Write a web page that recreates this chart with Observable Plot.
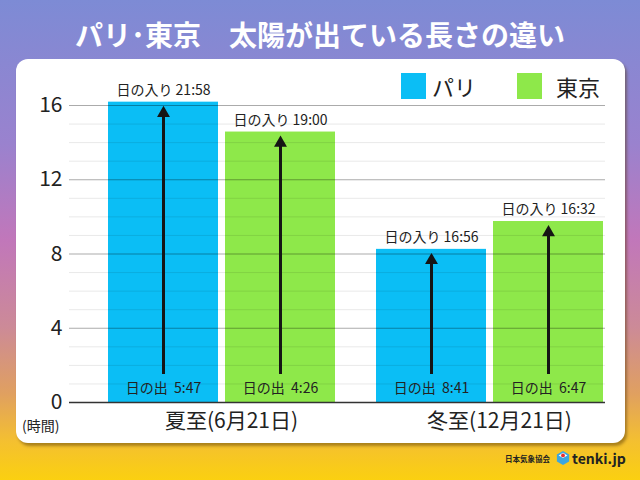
<!DOCTYPE html>
<html><head><meta charset="utf-8">
<script src="https://cdn.jsdelivr.net/npm/d3@7"></script>
<script src="https://cdn.jsdelivr.net/npm/@observablehq/plot@0.6"></script>
<style>
html,body{margin:0;padding:0;}
body{width:640px;height:480px;overflow:hidden;font-family:"Noto Sans CJK JP","Noto Sans",sans-serif;}
#bg{position:relative;width:640px;height:480px;background:linear-gradient(180deg,#7D8BD5 0%,#9A82CE 30%,#C177BA 50%,#CC8A98 68%,#E0A060 82%,#F4C030 92%,#FBD010 100%);}
#title{position:absolute;left:0;width:640px;top:12px;text-align:center;color:#fff;font-weight:700;font-size:28px;line-height:44px;white-space:nowrap;}
#panel{position:absolute;left:16px;top:59px;width:609px;height:384px;background:#fff;border-radius:12px;box-shadow:2px 3px 3px rgba(80,50,0,0.45);}
#chart{position:absolute;left:0;top:0;}
.sw{position:absolute;width:25px;height:26px;}
.lt{position:absolute;font-size:22px;line-height:26px;color:#222;}
#unit{position:absolute;left:22px;top:416px;font-size:14px;line-height:18px;color:#222;}
#footer{position:absolute;left:505px;top:448px;height:20px;display:flex;align-items:center;color:#222;white-space:nowrap;}
</style></head>
<body>
<div id="bg">
  <div id="title">パリ･東京　太陽が出ている長さの違い</div>
  <div id="panel"><div id="chart"></div></div>
  <div class="sw" style="left:401px;top:73px;background:#0BBEF5"></div>
  <div class="lt" style="left:432px;top:73px;">パリ</div>
  <div class="sw" style="left:517px;top:73px;background:#8EE84A"></div>
  <div class="lt" style="left:556px;top:73px;">東京</div>
  <div id="unit">(時間)</div>
  <div id="footer">
    <span style="font-size:7.5px;font-weight:700;margin-right:6px;">日本気象協会</span>
    <svg width="14" height="16" viewBox="0 0 16 18" style="margin-right:2px;">
      <polygon points="8,1 15,5 15,13 8,17 1,13 1,5" fill="#3BA6E0"/>
      <polygon points="8,3 13,6 8,9 3,6" fill="#fff"/>
      <circle cx="8" cy="6" r="2.2" fill="#E53030"/>
    </svg>
    <span style="font-size:14px;font-weight:700;">tenki.jp</span>
  </div>
</div>
<script>
const seasons = ["夏至(6月21日)", "冬至(12月21日)"];
const cities = ["パリ", "東京"];
// order: Paris summer, Tokyo summer, Paris winter, Tokyo winter
const sunrise = ["5:47", "4:26", "8:41", "6:47"];
const sunset = ["21:58", "19:00", "16:56", "16:32"];
const daylightHours = [16.18, 14.57, 8.25, 9.75];
const yTicks = [0, 4, 8, 12, 16];
const minorTicks = [1, 2, 3, 5, 6, 7, 9, 10, 11, 13, 14, 15];
const colors = ["#0BBEF5", "#8EE84A"];

const data = daylightHours.map((v, i) => ({
  season: seasons[Math.floor(i / 2)],
  city: cities[i % 2],
  hours: v,
  rise: "日の出\u00a0\u00a0" + sunrise[i],
  set: "日の入り\u00a0" + sunset[i]
}));

const chart = Plot.plot({
  width: 609,
  height: 384,
  marginLeft: 52,
  marginRight: 20,
  marginTop: 46,
  marginBottom: 41,
  style: {fontFamily: '"Noto Sans CJK JP","Noto Sans",sans-serif', color: "#222", background: "transparent", overflow: "visible"},
  fx: {domain: seasons, paddingInner: 0, paddingOuter: 0, label: null},
  x: {domain: cities, paddingInner: 0.06, paddingOuter: 0.17, align: 0.94, axis: null},
  y: {domain: [0, 16], label: null},
  color: {domain: cities, range: colors},
  marks: [
    Plot.barY(data, {fx: "season", x: "city", y: "hours", fill: "city"}),
    Plot.ruleY(minorTicks, {stroke: "#000", strokeOpacity: 0.09}),
    Plot.ruleY(yTicks.filter(d => d > 0), {stroke: "#000", strokeOpacity: 0.33}),
    Plot.ruleY([0], {stroke: "#333", strokeWidth: 1.5}),
    Plot.ruleX(data, {fx: "season", x: "city", y1: "hours", y2: 0, stroke: "#151515", strokeWidth: 3, insetTop: 14, insetBottom: 28}),
    Plot.dot(data, {fx: "season", x: "city", y: "hours", symbol: "triangle", r: 4.8, fill: "#151515", stroke: null, dy: 11}),
    Plot.text(data, {fx: "season", x: "city", y: "hours", text: "set", dy: -12, fontSize: 14, fill: "#222"}),
    Plot.text(data, {fx: "season", x: "city", y: 0, text: "rise", dy: -14, fontSize: 14, fill: "#222"}),
    Plot.axisY(yTicks, {tickSize: 0, tickPadding: 7, fontSize: 21, label: null}),
    Plot.axisFx({anchor: "bottom", tickSize: 0, tickPadding: 11, fontSize: 21, dx: 28, label: null})
  ]
});
document.getElementById("chart").appendChild(chart);
</script>
</body></html>
